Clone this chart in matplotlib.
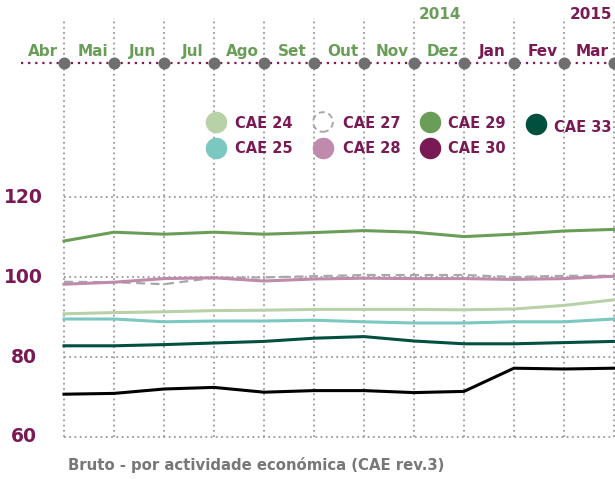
import matplotlib
matplotlib.use("Agg")
import matplotlib.pyplot as plt

months = ["Abr", "Mai", "Jun", "Jul", "Ago", "Set", "Out", "Nov", "Dez", "Jan", "Fev", "Mar"]
years = ["2014", "2015"]
series_names = ["CAE 24", "CAE 25", "CAE 27", "CAE 28", "CAE 29", "CAE 30", "CAE 33"]
cae24 = [90.8, 91.1, 91.3, 91.6, 91.7, 91.9, 91.9, 91.9, 91.8, 92.0, 92.9, 94.3]
cae25 = [89.5, 89.5, 88.8, 89.0, 89.0, 89.2, 88.8, 88.5, 88.5, 88.8, 88.8, 89.5]
cae27 = [98.8, 98.7, 98.2, 99.8, 99.9, 100.2, 100.5, 100.5, 100.5, 100.0, 100.3, 100.3]
cae28 = [98.2, 98.7, 99.6, 99.8, 99.0, 99.5, 99.7, 99.6, 99.6, 99.4, 99.6, 100.2]
cae29 = [109.0, 111.2, 110.7, 111.2, 110.7, 111.1, 111.6, 111.2, 110.1, 110.7, 111.5, 111.9]
cae30 = [70.7, 70.9, 72.0, 72.4, 71.2, 71.6, 71.6, 71.1, 71.4, 77.2, 77.0, 77.2]
cae33 = [82.8, 82.8, 83.1, 83.5, 83.9, 84.7, 85.1, 84.0, 83.3, 83.3, 83.6, 83.9]
yticks = [60, 80, 100, 120]
title = "Bruto - por actividade económica (CAE rev.3)"

GREEN = "#6a9e58"
PURPLE = "#7a1a55"
PINK = "#bf8aab"
LGREEN = "#b8d1a8"
TEAL = "#7bc8c0"
DGREEN = "#00503f"
GRAY = "#a8a8a8"
GRID = "#9a9a9a"
DOT = "#6f6f6f"

FONT = ['DejaVu Sans']
plt.rcParams['font.family'] = FONT

W, H = 615, 479
fig = plt.figure(figsize=(W / 100, H / 100), dpi=100)
ax = fig.add_axes([0, 0, 1, 1])
ax.set_axis_off()

def px2x(px):
    return (px - 64) / 50.0

def py2v(py):
    return 60 + (437 - py) / 4.0

ax.set_xlim(px2x(0), px2x(W))
ax.set_ylim(py2v(H), py2v(0))

n = len(months)
xs = list(range(n))

dot_ls = (0, (1, 1.9))
for i in xs:
    ax.plot([i, i], [60, py2v(18)], color=GRID, lw=1.3, ls=dot_ls, zorder=1)
for v in yticks:
    ax.plot([0, n - 1], [v, v], color=GRID, lw=1.3, ls=dot_ls, zorder=1)
    ax.text(px2x(23.5), v, str(v), color=PURPLE, fontsize=13.5, fontweight='bold',
            ha='center', va='center')

ytop = py2v(63)
ax.plot([px2x(21), px2x(W)], [ytop, ytop], color=PURPLE, lw=1.6, ls=(0, (1, 2.2)), zorder=2)
ax.scatter(xs, [ytop] * n, s=75, color=DOT, zorder=3, clip_on=False, linewidths=0)
for i, m in enumerate(months):
    c = GREEN if i < 9 else PURPLE
    ax.text(i - 0.5 + 0.07, py2v(51), m, color=c, fontsize=11, fontweight='bold',
            ha='center', va='center')
ax.text(8 - 0.05, py2v(14), years[0], color=GREEN, fontsize=11, fontweight='bold',
        ha='right', va='center')
ax.text(11 - 0.03, py2v(14), years[1], color=PURPLE, fontsize=11, fontweight='bold',
        ha='right', va='center')

lw = 2.2
ax.plot(xs, cae27, color=GRAY, lw=1.6, ls=(0, (4, 2.5)), zorder=4)
ax.plot(xs, cae28, color=PINK, lw=lw, zorder=5)
ax.plot(xs, cae29, color=GREEN, lw=lw, zorder=5)
ax.plot(xs, cae24, color=LGREEN, lw=lw, zorder=5)
ax.plot(xs, cae25, color=TEAL, lw=lw, zorder=5)
ax.plot(xs, cae33, color=DGREEN, lw=lw, zorder=5)
ax.plot(xs, cae30, color="#000000", lw=lw, zorder=5)

leg = [
    ("CAE 24", LGREEN, 216, 122, 235, 123),
    ("CAE 27", None, 323, 122, 343, 123),
    ("CAE 29", GREEN, 430, 122, 448, 123),
    ("CAE 33", DGREEN, 536, 124, 554, 127),
    ("CAE 25", TEAL, 216, 148, 235, 148),
    ("CAE 28", PINK, 323, 148, 343, 148),
    ("CAE 30", PURPLE, 430, 148, 448, 148),
]
for name, col, mx, my, tx, ty in leg:
    if col is None:
        ax.scatter([px2x(mx)], [py2v(my)], s=200, facecolor="white", edgecolor=GRAY,
                   linewidths=1.4, linestyle=(0, (3, 2)), zorder=6)
    else:
        ax.scatter([px2x(mx)], [py2v(my)], s=240, color=col, linewidths=0, zorder=6)
    ax.text(px2x(tx), py2v(ty), name, color=PURPLE, fontsize=10.5, fontweight='bold',
            ha='left', va='center', zorder=6)

ax.text(px2x(68), py2v(465), title, color="#777777", fontsize=10.7, fontweight='bold',
        ha='left', va='center')

fig.savefig("out.png", dpi=100)
